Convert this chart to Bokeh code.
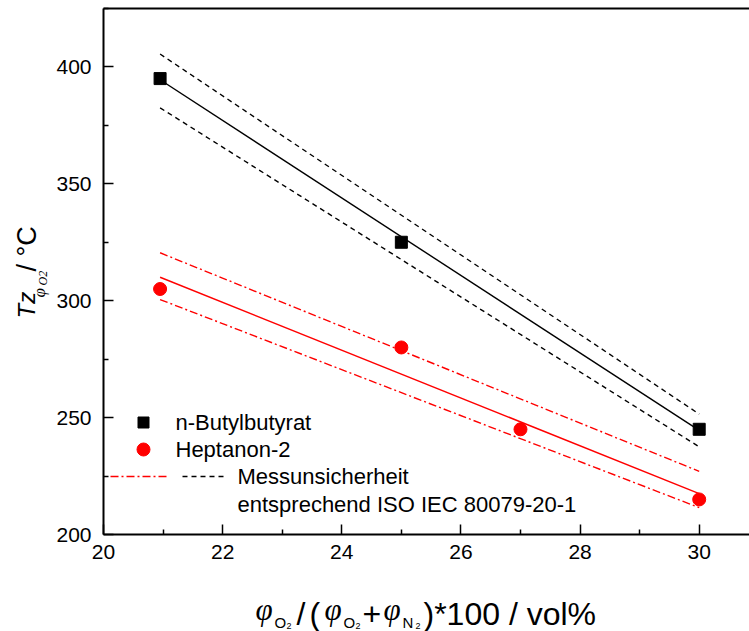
import math
from bokeh.plotting import figure
from bokeh.models import Range1d, Label, FixedTicker, LinearAxis
from bokeh.embed import file_html
from bokeh.resources import INLINE

# ---------------- data ----------------
bb_x = [20.95, 25, 30]
bb_y = [395, 325, 245]
hep_x = [20.95, 25, 27, 30]
hep_y = [305, 280, 245, 215]
fit_x = [20.95, 30]
bb_fit = [394.5, 244.5]
bb_upper = [405.5, 251.5]
bb_lower = [382.5, 237.5]
hep_fit = [310, 217.5]
hep_upper = [320.5, 227]
hep_lower = [300.5, 211.5]
x_ticks = [20, 22, 24, 26, 28, 30]
y_ticks = [200, 250, 300, 350, 400]
series_names = ["n-Butylbutyrat", "Heptanon-2"]
unc_text = ["Messunsicherheit", "entsprechend ISO IEC 80079-20-1"]

# ---------------- layout ----------------
W, H = 749, 631
PX20, PX30 = 103.0, 698.7      # pixel x of x=20 and x=30
PY200, PY400 = 534.0, 66.4     # pixel y of y=200 and y=400
PYTOP = 8.0                    # pixel y of the top frame line
SX = (PX30 - PX20) / 10.0
SY = (PY200 - PY400) / 200.0
XA = 20 - PX20 / SX
XB = 20 + (W - PX20) / SX
YA = 200 - (H - PY200) / SY
YB = 200 + PY200 / SY
YTOP = 200 + (PY200 - PYTOP) / SY
RED = "#ff0000"
SANS = "Liberation Sans"
SERIF = "Liberation Serif"


def dx(px):
    return 20 + (px - PX20) / SX


def dy(py):
    return 200 + (PY200 - py) / SY


p = figure(width=W, height=H, x_range=Range1d(XA, XB), y_range=Range1d(YA, YB),
           output_backend="svg", toolbar_location=None,
           x_axis_type=None, y_axis_type=None,
           min_border_left=0, min_border_right=0, min_border_top=0,
           min_border_bottom=0)
p.xgrid.visible = False
p.ygrid.visible = False
p.outline_line_color = None
p.background_fill_color = "white"
p.border_fill_color = "white"


def style_axis(ax):
    ax.axis_line_width = 2
    ax.axis_line_color = "black"
    ax.major_tick_in = 10
    ax.major_tick_out = 0
    ax.minor_tick_in = 5
    ax.minor_tick_out = 0
    ax.major_tick_line_width = 1.5
    ax.minor_tick_line_width = 1.5
    ax.major_tick_line_color = "black"
    ax.minor_tick_line_color = "black"
    ax.major_label_text_font = SANS
    ax.major_label_text_font_size = "21px"
    ax.major_label_text_color = "black"


xaxis = LinearAxis(fixed_location=200, bounds=(20, XB),
                   ticker=FixedTicker(ticks=x_ticks, minor_ticks=[t + 1 for t in x_ticks]))
style_axis(xaxis)
xaxis.major_label_standoff = 10
p.add_layout(xaxis, "below")

yaxis = LinearAxis(fixed_location=20, bounds=(200, YTOP),
                   ticker=FixedTicker(ticks=y_ticks, minor_ticks=[t + 25 for t in y_ticks]))
style_axis(yaxis)
yaxis.major_label_standoff = 12
p.add_layout(yaxis, "left")

topaxis = LinearAxis(fixed_location=YTOP, bounds=(20, XB),
                     ticker=FixedTicker(ticks=[]))
topaxis.axis_line_width = 2
topaxis.axis_line_color = "black"
topaxis.major_tick_line_color = None
topaxis.minor_tick_line_color = None
topaxis.major_label_text_color = None
p.add_layout(topaxis, "above")

# ---------------- data marks ----------------
p.line(fit_x, bb_upper, line_color="black", line_width=1.4, line_dash="5 4")
p.line(fit_x, bb_lower, line_color="black", line_width=1.4, line_dash="5 4")
p.line(fit_x, bb_fit, line_color="black", line_width=1.4)
p.line(fit_x, hep_upper, line_color=RED, line_width=1.4, line_dash="8 3 2 3")
p.line(fit_x, hep_lower, line_color=RED, line_width=1.4, line_dash="8 3 2 3")
p.line(fit_x, hep_fit, line_color=RED, line_width=1.5)
p.scatter(bb_x, bb_y, marker="square", size=12, color="black")
p.scatter(hep_x, hep_y, marker="circle", size=13, color=RED)

# ---------------- legend ----------------
p.scatter([dx(143)], [dy(422)], marker="square", size=11, color="black")
p.scatter([dx(143)], [dy(449)], marker="circle", size=13, color=RED)
p.line([dx(110), dx(168)], [dy(476), dy(476)], line_color=RED, line_width=1.4, line_dash="8 3 2 3")
p.line([dx(182), dx(224)], [dy(476), dy(476)], line_color="black", line_width=1.4, line_dash="5 4")
for txt, px, py in [(series_names[0], 175, 422), (series_names[1], 175, 449),
                    (unc_text[0], 237, 476), (unc_text[1], 237, 504)]:
    p.add_layout(Label(x=dx(px), y=dy(py), text=txt, text_baseline="middle",
                       text_align="left", text_font=SANS, text_font_size="22px",
                       text_color="black"))


# ---------------- axis titles (built from pieces for the subscripts) ----------------
def piece(txt, px, py, size, font=SANS, style="normal", angle=0.0):
    p.add_layout(Label(x=dx(px), y=dy(py), text=txt, text_align="left",
                       text_baseline="alphabetic", text_font=font,
                       text_font_size=f"{size}px", text_font_style=style,
                       text_color="black", angle=angle))


# x title: φO2/(φO2+φN2)*100 / vol%
piece("φ", 255, 609, 31, SERIF, "italic")
piece("O", 274, 622, 15)
piece("2", 286, 625, 9)
piece("/", 296, 613, 32)
piece("(", 309, 613, 32)
piece("φ", 324, 609, 31, SERIF, "italic")
piece("O", 343, 622, 15)
piece("2", 355, 625, 9)
piece("+", 362, 613, 32)
piece("φ", 383, 609, 31, SERIF, "italic")
piece("N", 402, 622, 15)
piece("2", 415, 625, 9)
piece(")*100 / vol%", 423, 613, 32)

# y title: Tz_{φO2} / °C (rotated)
A = math.pi / 2
piece("Tz", 26, 318, 24, SANS, "italic", A)
piece("φ", 39, 297, 17, SERIF, "italic", A)
piece("O2", 42, 285, 12, SERIF, "italic", A)
piece("/ °C", 26, 271, 27, SANS, "normal", A)

open("out.html", "w").write(file_html(p, INLINE))
